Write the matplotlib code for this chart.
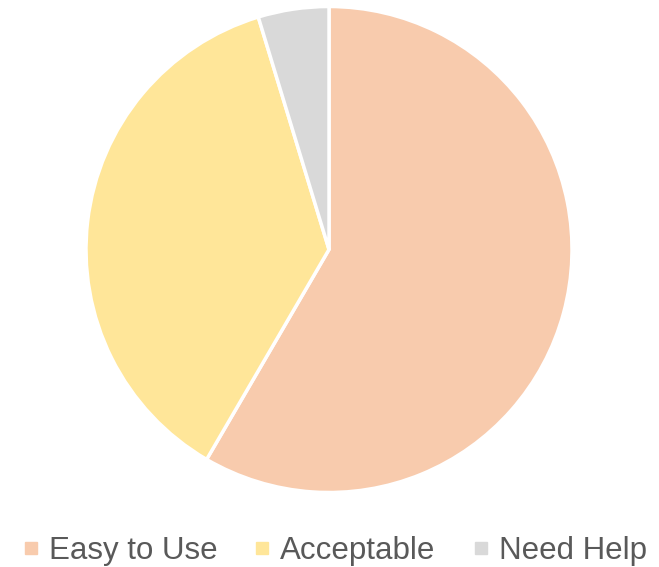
import matplotlib.pyplot as plt
from matplotlib.lines import Line2D

# Survey answers, share of respondents (%)
labels = ['Easy to Use', 'Acceptable', 'Need Help']
shares = [58.4, 36.9, 4.7]
colors = ['#F8CBAD', '#FFE699', '#D9D9D9']

plt.rcParams['font.family'] = ['Liberation Sans', 'DejaVu Sans']

W, H = 659, 567
fig = plt.figure(figsize=(W / 100, H / 100), dpi=100)

# pie centre and radius in pixels
cx, cy, r = 329, 249.5, 243
ax = fig.add_axes([(cx - r) / W, (H - cy - r) / H, 2 * r / W, 2 * r / H])
ax.pie(shares, colors=colors, startangle=90, counterclock=False,
       wedgeprops={'edgecolor': 'white', 'linewidth': 2.5})
ax.set_xlim(-1, 1)
ax.set_ylim(-1, 1)
ax.set_aspect('equal')
ax.axis('off')

# legend across the bottom
handles = [Line2D([], [], marker='s', linestyle='', markersize=9,
                  markerfacecolor=c, markeredgecolor=c) for c in colors]
fig.legend(handles, labels, loc='center', ncol=3,
           bbox_to_anchor=(334.5 / W, 1 - 551 / H), frameon=False,
           fontsize=22.5, labelcolor='#595959', handlelength=0.55,
           handletextpad=0.3, columnspacing=1.17)

fig.savefig('out.png', dpi=100)
